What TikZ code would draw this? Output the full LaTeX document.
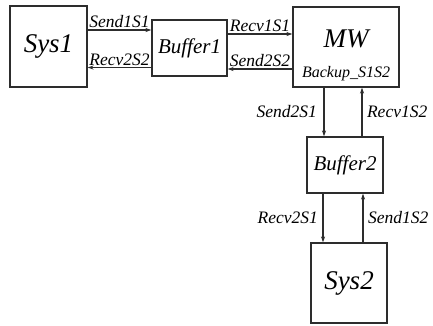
\documentclass[tikz,border=0pt]{standalone}
\usepackage{fontspec}
\setmainfont{Liberation Serif}[ItalicFont={Liberation Serif Italic}]
\usepackage{tikz}
\usetikzlibrary{arrows.meta, calc}
\definecolor{figK}{RGB}{45,45,45}
\tikzset{
  blk/.style={draw=figK, line width=1.1pt, inner sep=0pt},
  bigtxt/.style={font=\rmfamily\itshape\fontsize{27}{27}\selectfont},
  midtxt/.style={font=\rmfamily\itshape\fontsize{21}{21}\selectfont},
  lbl/.style={font=\rmfamily\itshape\fontsize{17.5}{17.5}\selectfont, inner sep=1.5pt},
  msg/.style={-{Stealth[length=6pt, width=4pt]}, draw=figK, line width=1.1pt}}

\begin{document}
\begin{tikzpicture}[x=1pt, y=-1pt]
\useasboundingbox (0,0) rectangle (433,325);
% the five blocks
\node[blk, bigtxt, minimum width=77pt, minimum height=81pt] (sys1) at (48.5,46.5) {Sys1};
\node[blk, midtxt, minimum width=75pt, minimum height=56pt] (buf1) at (189.5,48) {Buffer1};
\node[blk, minimum width=106pt, minimum height=80pt] (mw) at (346,47) {};
\node[bigtxt] (mwname) at (346,39) {MW};
\node[font=\rmfamily\itshape\fontsize{16}{16}\selectfont] (mwsub) at (346,74) {Backup\_S1S2};
\node[blk, midtxt, minimum width=76pt, minimum height=56pt] (buf2) at (345,165) {Buffer2};
\node[blk, bigtxt, minimum width=76pt, minimum height=80pt] (sys2) at (349,283) {Sys2};
% horizontal messages
\draw[msg] ([yshift=16.5pt]sys1.east) -- ([yshift=16.5pt]sys1.east -| buf1.west)
  node[lbl, midway, above] {Send1S1};
\draw[msg] ([yshift=-19.5pt]buf1.west) -- ([yshift=-19.5pt]buf1.west -| sys1.east)
  node[lbl, midway, above] {Recv2S2};
\draw[msg] ([yshift=14pt]buf1.east) -- ([yshift=14pt]buf1.east -| mw.west)
  node[lbl, midway, above] {Recv1S1};
\draw[msg] ([yshift=-22pt]mw.west) -- ([yshift=-22pt]mw.west -| buf1.east)
  node[lbl, midway, above] {Send2S2};
% vertical messages
\draw[msg] ([xshift=-22pt]mw.south) -- ([xshift=-22pt]mw.south |- buf2.north)
  node[lbl, midway, left, xshift=-5pt] {Send2S1};
\draw[msg] ([xshift=17pt]buf2.north) -- ([xshift=17pt]buf2.north |- mw.south)
  node[lbl, midway, right, xshift=3pt] {Recv1S2};
\draw[msg] ([xshift=-22pt]buf2.south) -- ([xshift=-22pt]buf2.south |- sys2.north)
  node[lbl, midway, left, xshift=-3pt] {Recv2S1};
\draw[msg] ([xshift=18pt]buf2.south |- sys2.north) -- ([xshift=18pt]buf2.south)
  node[lbl, midway, right, xshift=3pt] {Send1S2};
\end{tikzpicture}
\end{document}
